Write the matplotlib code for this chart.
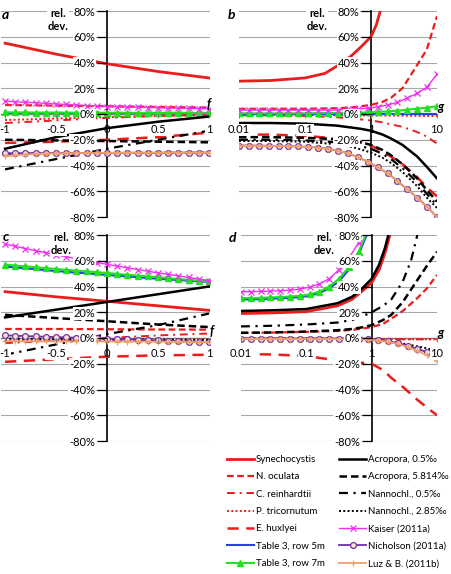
import numpy as np
import matplotlib.pyplot as plt
from matplotlib.lines import Line2D

plt.rcParams['font.family'] = ['Lato', 'DejaVu Sans']

W, H = 452, 574

# x grids
F = [-1, -0.5, 0, 0.5, 1]
F21 = [-1, -0.9, -0.8, -0.7, -0.6, -0.5, -0.4, -0.3, -0.2, -0.1, 0,
       0.1, 0.2, 0.3, 0.4, 0.5, 0.6, 0.7, 0.8, 0.9, 1]
G = [0.01, 0.03, 0.1, 0.3, 0.5, 0.7, 1, 1.5, 2, 3, 5, 7, 10]
G21 = [0.01, 0.014, 0.02, 0.028, 0.04, 0.056, 0.079, 0.112, 0.158, 0.224, 0.316,
       0.447, 0.631, 0.891, 1.26, 1.78, 2.51, 3.55, 5.01, 7.08, 10]
G14 = G21[:14]

# panel a (vs f), rel. dev. in %
syn_a = [55, 46.5, 39, 33, 28]
ocu_a = [7, 6.5, 6, 5.5, 5]
rei_a = [-7, -5, -3, -1.5, -0.5]
tri_a = [-4.7, -3.5, -2.5, -1.5, -1]
hux_a = [-22.5, -21.5, -20, -18, -14.5]
t5m_a = [0.8, 0.8, 0.7, 0.7, 0.6]
t7m_a = [1.2, 1.2, 1.2, 1.1, 1.1, 1.1, 1.1, 1.0, 1.0, 1.0, 1.0,
         1.0, 1.0, 0.9, 0.9, 0.9, 0.9, 0.9, 0.8, 0.8, 0.8]
acr05_a = [-27, -18, -11, -6, -2]
acr58_a = [-20, -20.5, -21, -21.5, -22]
nan05_a = [-43, -35, -27, -20, -13]
nan285_a = [-31, -30.5, -30.3, -30.2, -30]
kai_a = [10, 9.5, 9.1, 8.7, 8.3, 7.8, 7.4, 7.0, 6.6, 6.2, 5.8,
         5.6, 5.4, 5.2, 5.0, 4.8, 4.6, 4.5, 4.3, 4.2, 4.0]
nic_a = [-30.5, -30.5, -30.4, -30.4, -30.4, -30.3, -30.3, -30.3, -30.2, -30.2, -30.2,
         -30.2, -30.1, -30.1, -30.1, -30.1, -30, -30, -30, -30, -30]
luz_a = [-33, -32, -31.5, -31, -30.8, -30.6, -30.5, -30.4, -30.3, -30.3, -30.2,
         -30.2, -30.1, -30.1, -30.1, -30.1, -30, -30, -30, -30, -30]

# panel b (vs g)
syn_b_x = [0.01, 0.03, 0.1, 0.2, 0.3, 0.5, 0.7, 1, 1.2, 1.4]
syn_b = [25.5, 26, 28, 31.5, 37, 45, 52, 60, 69, 81]
ocu_b = [4, 4, 4, 4.5, 5, 6, 7, 9.5, 12.5, 20, 38, 50, 76]
rei_b = [-1, -1, -1.5, -2.5, -3.5, -4.2, -5, -6.5, -8, -10, -14, -17.5, -23]
tri_b = [-0.8, -0.8, -0.8, -0.9, -1, -1, -1.1, -1.2, -1.2, -1.3, -1.4, -1.5, -1.5]
hux_b = [-16, -16, -17, -19, -20.5, -22, -24.5, -29, -33, -39, -49, -57, -64]
t5m_b = [0.2, 0.2, 0.2, 0.2, 0.2, 0.2, 0.2, 0.2, 0.2, 0.2, 0.2, 0.2, 0.2]
t7m_b = [0.5, 0.5, 0.5, 0.5, 0.5, 0.5, 0.5, 0.6, 0.7, 0.8, 0.9,
         1.0, 1.0, 1.2, 1.6, 2.0, 2.6, 3.3, 4.2, 5.0, 6.0]
acr05_b = [-7, -7, -7.5, -9, -10.5, -11.5, -13, -16, -19, -24, -33, -41, -50]
acr58_b = [-18, -18, -18.5, -19.5, -21, -22, -24, -28, -32, -39, -50, -59, -68]
nan05_b = [-20, -20, -20.5, -22, -23.5, -25, -27, -31, -35, -42, -53, -62, -71]
nan285_b = [-21, -21, -21.5, -23.5, -25.5, -27.5, -30, -34, -38, -45, -56, -65, -73]
kai_b = [3, 3, 3, 3, 3, 3, 3, 3, 3, 3, 3.1,
         3.5, 4, 4.5, 5.5, 7, 9, 12.5, 16, 21, 31]
nic_b = [-24.5, -24.5, -24.6, -24.7, -24.8, -25, -25.2, -25.6, -26.2, -27, -28.5,
         -30.5, -33.5, -37, -41.5, -46, -52, -58.5, -65, -72, -80]
luz_b = [-24.5, -24.5, -24.6, -24.7, -24.8, -25, -25.2, -25.6, -26.2, -27, -28.5,
         -30.5, -33.5, -37, -41.5, -46, -52, -58.5, -65, -72, -80]

# panel c (vs f)
syn_c = [36, 32, 28.5, 25, 21.5]
ocu_c = [7, 7, 6.8, 6.6, 6.5]
rei_c = [-4, -2, 0, 2, 3.5]
tri_c = [-2, -1.8, -1.5, -1.2, -1]
hux_c = [-18.5, -16.5, -14.5, -13.5, -13]
t5m_c = [55.5, 52, 49, 46, 43.5]
t7m_c = [57, 56.3, 55.6, 55, 54.3, 53.6, 53, 52.3, 51.7, 51.1, 50.5,
         49.8, 49.1, 48.5, 47.8, 47.2, 46.5, 45.8, 45.2, 44.6, 44]
acr05_c = [16, 22, 28, 34, 40]
acr58_c = [18, 15.5, 13, 10.5, 8.5]
nan05_c = [-13, -5, 3, 10, 19]
nan285_c = [-0.5, -0.8, -1, -1.2, -1.5]
kai_c = [73, 71.2, 69.5, 67.8, 66.2, 64.6, 63.1, 61.6, 60.1, 58.6, 57.2,
         55.8, 54.5, 53.2, 51.9, 50.6, 49.4, 48.2, 47, 45.8, 44.6]
nic_c = [2, 1.8, 1.5, 1.2, 1, 0.7, 0.5, 0.2, 0, -0.3, -0.5,
         -0.8, -1, -1.3, -1.6, -1.9, -2.2, -2.5, -2.8, -3.1, -3.4]
luz_c = [-2.5, -2.5, -2.5, -2.5, -2.6, -2.6, -2.6, -2.6, -2.7, -2.7, -2.7,
         -2.8, -2.8, -2.8, -2.9, -2.9, -3.0, -3.0, -3.1, -3.1, -3.2]

# panel d (vs g)
syn_d_x = [0.01, 0.03, 0.1, 0.3, 0.5, 0.7, 1, 1.3, 1.6, 1.9]
syn_d = [19, 19.5, 20.5, 25, 30, 36, 43, 53, 66, 80]
ocu_d = [4, 4.2, 4.8, 5.5, 6.3, 7.2, 8.5, 11, 15, 21, 31, 38.5, 49]
rei_d = [-0.5, -0.5, -0.5, -0.5, -0.5, -0.6, -0.7, -0.8, -0.9, -1, -1, -1, -1]
tri_d = [-0.5, -0.5, -0.5, -0.5, -0.5, -0.6, -0.7, -0.8, -0.9, -1, -1, -1, -1]
hux_d = [-12.5, -12.8, -14, -17.5, -18.5, -19.2, -20, -25, -31, -38, -48, -54, -60]
t5m_d = [30, 30, 30.2, 30.5, 30.8, 31.2, 31.8, 32.8, 35, 38.5, 44, 53, 65, 83]
t7m_d = [31, 31, 31.2, 31.5, 31.8, 32.2, 32.8, 33.8, 36, 40, 46, 55, 67, 85]
acr05_d_x = [0.01, 0.03, 0.1, 0.3, 0.5, 0.7, 1, 1.3, 1.6, 1.8]
acr05_d = [21, 21.5, 22.5, 27, 32, 38, 46, 57, 70, 80]
acr58_d = [4, 4.3, 5, 6, 7, 8.2, 10, 14, 18, 28, 45, 56, 67]
nan05_d_x = [0.01, 0.03, 0.1, 0.3, 0.5, 0.7, 1, 1.5, 2, 3, 4, 5]
nan05_d = [9, 9.5, 10.5, 12, 14, 16.5, 20, 25, 30, 44, 60, 80]
nan285_d = [-0.5, -0.5, -0.5, -0.7, -0.9, -1.1, -1.5, -2.3, -3, -4.3, -6.5, -8, -10]
kai_d = [36, 36, 36.2, 36.4, 36.7, 37.1, 38, 39.5, 42, 46, 53, 62, 74, 92]
nic_d = [-0.5, -0.5, -0.5, -0.5, -0.5, -0.5, -0.5, -0.5, -0.5, -0.5, -0.5,
         -0.5, -0.7, -1, -1.5, -2.5, -4, -6, -8.5, -11, -14]
luz_d = [-0.8, -0.8, -0.8, -0.8, -0.8, -0.8, -0.8, -0.8, -0.8, -0.8, -0.8,
         -0.9, -1.0, -1.3, -2, -3, -4.7, -7, -10, -13.5, -18]

names = ['Synechocystis', 'N. oculata', 'C. reinhardtii', 'P. tricornutum', 'E. huxlyei',
         'Table 3, row 5m', 'Table 3, row 7m',
         'Acropora, 0.5‰', 'Acropora, 5.814‰', 'Nannochl., 0.5‰', 'Nannochl., 2.85‰',
         'Kaiser (2011a)', 'Nicholson (2011a)', 'Luz & B. (2011b)']

RED = '#EA1C1C'
styles = {
    'Synechocystis': dict(color=RED, lw=2.0, ls='-'),
    'N. oculata': dict(color=RED, lw=1.6, ls=(0, (3, 1.6))),
    'C. reinhardtii': dict(color=RED, lw=1.4, ls=(0, (4, 2.5, 1, 2.5))),
    'P. tricornutum': dict(color=RED, lw=1.4, ls=(0, (1, 1.2))),
    'E. huxlyei': dict(color=RED, lw=1.8, ls=(0, (4.5, 3))),
    'Table 3, row 5m': dict(color='#2B3FE6', lw=1.5),
    'Table 3, row 7m': dict(color='#22E022', lw=1.5, marker='^', ms=5, mec='#22E022'),
    'Acropora, 0.5‰': dict(color='black', lw=1.8),
    'Acropora, 5.814‰': dict(color='black', lw=1.8, ls=(0, (3, 1.6))),
    'Nannochl., 0.5‰': dict(color='black', lw=1.6, ls=(0, (4, 2.5, 1, 2.5))),
    'Nannochl., 2.85‰': dict(color='black', lw=1.4, ls=(0, (1, 1.2))),
    'Kaiser (2011a)': dict(color='#F030F0', lw=1.0, marker='x', ms=4.5, mew=0.9),
    'Nicholson (2011a)': dict(color='#7030A0', lw=1.3, marker='o', ms=4.2,
                              mfc='#FCE4D6', mew=0.9),
    'Luz & B. (2011b)': dict(color='#F2A06A', lw=1.3, marker='+', ms=4.5, mew=0.9),
}

panels = {
    'a': {'Synechocystis': (F, syn_a), 'N. oculata': (F, ocu_a), 'C. reinhardtii': (F, rei_a),
          'P. tricornutum': (F, tri_a), 'E. huxlyei': (F, hux_a), 'Table 3, row 5m': (F, t5m_a),
          'Table 3, row 7m': (F21, t7m_a), 'Acropora, 0.5‰': (F, acr05_a),
          'Acropora, 5.814‰': (F, acr58_a), 'Nannochl., 0.5‰': (F, nan05_a),
          'Nannochl., 2.85‰': (F, nan285_a), 'Kaiser (2011a)': (F21, kai_a),
          'Nicholson (2011a)': (F21, nic_a), 'Luz & B. (2011b)': (F21, luz_a)},
    'b': {'Synechocystis': (syn_b_x, syn_b), 'N. oculata': (G, ocu_b), 'C. reinhardtii': (G, rei_b),
          'P. tricornutum': (G, tri_b), 'E. huxlyei': (G, hux_b), 'Table 3, row 5m': (G, t5m_b),
          'Table 3, row 7m': (G21, t7m_b), 'Acropora, 0.5‰': (G, acr05_b),
          'Acropora, 5.814‰': (G, acr58_b), 'Nannochl., 0.5‰': (G, nan05_b),
          'Nannochl., 2.85‰': (G, nan285_b), 'Kaiser (2011a)': (G21, kai_b),
          'Nicholson (2011a)': (G21, nic_b), 'Luz & B. (2011b)': (G21, luz_b)},
    'c': {'Synechocystis': (F, syn_c), 'N. oculata': (F, ocu_c), 'C. reinhardtii': (F, rei_c),
          'P. tricornutum': (F, tri_c), 'E. huxlyei': (F, hux_c), 'Table 3, row 5m': (F, t5m_c),
          'Table 3, row 7m': (F21, t7m_c), 'Acropora, 0.5‰': (F, acr05_c),
          'Acropora, 5.814‰': (F, acr58_c), 'Nannochl., 0.5‰': (F, nan05_c),
          'Nannochl., 2.85‰': (F, nan285_c), 'Kaiser (2011a)': (F21, kai_c),
          'Nicholson (2011a)': (F21, nic_c), 'Luz & B. (2011b)': (F21, luz_c)},
    'd': {'Synechocystis': (syn_d_x, syn_d), 'N. oculata': (G, ocu_d), 'C. reinhardtii': (G, rei_d),
          'P. tricornutum': (G, tri_d), 'E. huxlyei': (G, hux_d), 'Table 3, row 5m': (G14, t5m_d),
          'Table 3, row 7m': (G14, t7m_d), 'Acropora, 0.5‰': (acr05_d_x, acr05_d),
          'Acropora, 5.814‰': (G, acr58_d), 'Nannochl., 0.5‰': (nan05_d_x, nan05_d),
          'Nannochl., 2.85‰': (G, nan285_d), 'Kaiser (2011a)': (G14, kai_d),
          'Nicholson (2011a)': (G21, nic_d), 'Luz & B. (2011b)': (G21, luz_d)},
}

yticks = [-80, -60, -40, -20, 0, 20, 40, 60, 80]
FS = 8
BOX = dict(facecolor='white', edgecolor='none', pad=0.6)


def px_axes(fig, x0, x1, ytop, ybot):
    return fig.add_axes([x0 / W, 1 - ybot / H, (x1 - x0) / W, (ybot - ytop) / H])


def setup(ax, log):
    ax.set_ylim(-80, 80)
    if log:
        ax.set_xscale('log')
        ax.set_xlim(0.01, 10)
        xt, xl, ycross = [0.01, 0.1, 1, 10], ['0.01', '0.1', '1', '10'], 1
        ax.minorticks_off()
    else:
        ax.set_xlim(-1.04, 1.01)
        xt, xl, ycross = [-1, -0.5, 0, 0.5, 1], ['-1', '-0.5', '0', '0.5', '1'], 0
    for v in yticks:
        if v != 0:
            ax.axhline(v, color='#A8A8A8', lw=0.8, zorder=0)
    for s in ['top', 'right']:
        ax.spines[s].set_visible(False)
    ax.spines['left'].set_position(('data', ycross))
    ax.spines['left'].set_color('black')
    ax.spines['left'].set_linewidth(1.2)
    ax.spines['left'].set_zorder(1.6)
    ax.spines['bottom'].set_position(('data', 0))
    ax.spines['bottom'].set_color('#808080')
    ax.spines['bottom'].set_linewidth(1.0)
    ax.spines['bottom'].set_zorder(1.6)
    ax.set_yticks(yticks, [f'{v}%' for v in yticks])
    ax.set_xticks(xt, xl)
    ax.tick_params(axis='y', length=7.5, width=0.9, pad=1, labelsize=FS, color='black')
    ax.tick_params(axis='x', length=3, pad=4.5, labelsize=FS, color='#808080')
    ax.xaxis.set_zorder(3)
    ax.yaxis.set_zorder(3)
    for t in ax.yaxis.get_major_ticks():
        t.label1.set_bbox(BOX)
    for v, t in zip(xt, ax.xaxis.get_major_ticks()):
        if v != ycross:
            t.label1.set_bbox(BOX)
    ax.patch.set_visible(False)


fig = plt.figure(figsize=(W / 100, H / 100), dpi=100)

boxes = {'a': (1, 210, 11, 217, False), 'b': (239, 437, 11, 217, True),
         'c': (1, 210, 235, 441, False), 'd': (241, 437, 235, 441, True)}

for key, (x0, x1, yt, yb, log) in boxes.items():
    ax = px_axes(fig, x0, x1, yt, yb)
    setup(ax, log)
    for name in names:
        x, y = panels[key][name]
        ax.plot(x, y, **styles[name])

# panel letters, axis captions
letters = {'a': (5, 15), 'b': (231, 15), 'c': (6, 237), 'd': (232, 238)}
for k, (x, y) in letters.items():
    fig.text(x / W, 1 - y / H, k, fontsize=10, fontweight='bold', fontstyle='italic',
             ha='center', va='center')
rel = {'a': (58, 20), 'b': (317, 20), 'c': (61, 244), 'd': (324, 244)}
for k, (x, y) in rel.items():
    fig.text(x / W, 1 - y / H, 'rel.\ndev.', fontsize=FS, fontweight='bold',
             ha='center', va='center', linespacing=1.15, bbox=BOX, zorder=5)
var = {'f': [(209, 104), (212, 331)], 'g': [(441, 107), (441, 333)]}
for k, pts in var.items():
    for x, y in pts:
        fig.text(x / W, 1 - y / H, k, fontsize=9, fontweight='bold', fontstyle='italic',
                 ha='center', va='center')

handles = [Line2D([], [], **styles[n]) for n in names]
fig.legend(handles, names, ncol=2, loc='upper left',
           bbox_to_anchor=(227 / W, 1 - 455 / H), frameon=False, fontsize=7,
           handlelength=2.75, handletextpad=0.2, columnspacing=1.5,
           labelspacing=0.86, borderpad=0, borderaxespad=0)

fig.savefig('out.png', dpi=100)
